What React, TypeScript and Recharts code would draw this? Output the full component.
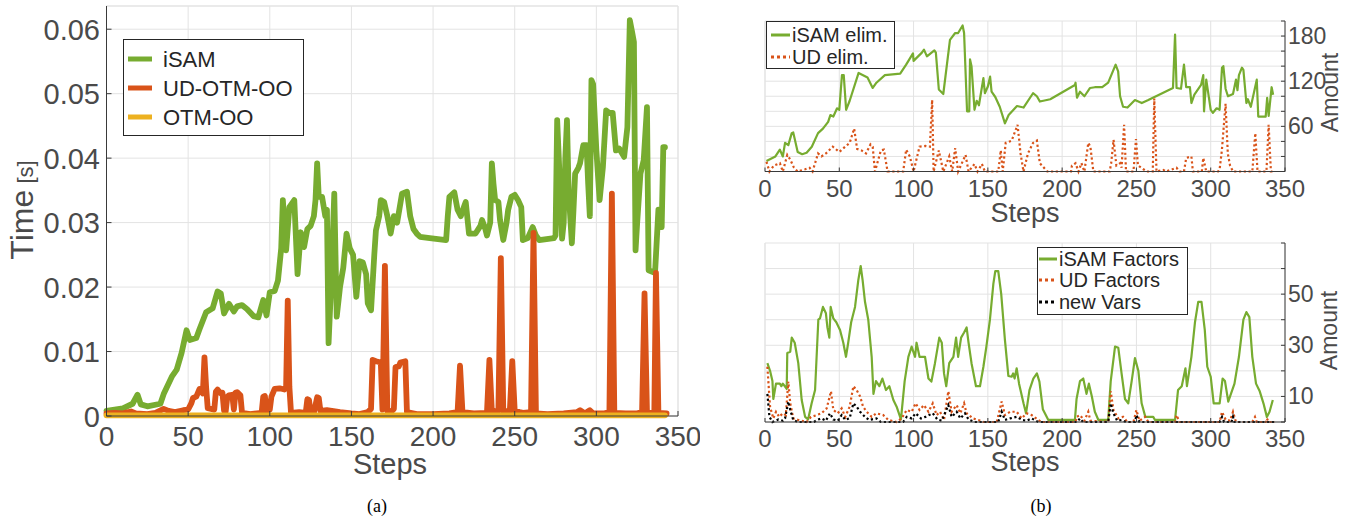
import React from "react";
import { LineChart, Line, XAxis, YAxis, CartesianGrid, ReferenceLine } from "recharts";

type Pt = [number, number];

// ---------- axes ----------
const stepTicks = [0, 50, 100, 150, 200, 250, 300, 350];
const timeTicks = [0, 0.01, 0.02, 0.03, 0.04, 0.05, 0.06];
const elimTicks = [0, 20, 40, 60, 80, 100, 120, 140, 160, 180, 200];
const elimLabels = [60, 120, 180];
const factorTicks = [0, 10, 20, 30, 40, 50, 60, 70];
const factorLabels = [10, 30, 50];

// ---------- (a) computation time per step [s] ----------
const isamTime: Pt[] = [
  [0, 0.0008], [10, 0.0012], [16, 0.0019], [19, 0.0033], [21, 0.0018], [25, 0.0015], [33, 0.0019],
  [35, 0.0034], [40, 0.0061], [43, 0.0072], [46, 0.0098], [49, 0.0133], [51, 0.0118], [55, 0.0121],
  [57, 0.0135], [61, 0.0161], [65, 0.0167], [68, 0.0193], [70, 0.019], [72, 0.0159], [75, 0.0174],
  [78, 0.0162], [80, 0.017], [83, 0.0172], [86, 0.0166], [90, 0.0155], [93, 0.0153], [96, 0.018],
  [98, 0.0156], [100, 0.0192], [103, 0.0194], [105, 0.021], [107, 0.026], [108, 0.0335], [110, 0.0257],
  [112, 0.0324], [115, 0.0335], [117, 0.022], [119, 0.0285], [121, 0.0262], [123, 0.029], [125, 0.0295],
  [127, 0.031], [128, 0.0335], [129, 0.0392], [130, 0.034], [132, 0.034], [134, 0.031], [135, 0.032],
  [136, 0.0113], [137.5, 0.02], [139.5, 0.0345], [141, 0.0154], [143, 0.02], [145, 0.023], [147, 0.0283],
  [149, 0.026], [151, 0.025], [153, 0.0185], [155, 0.024], [157, 0.0238], [159, 0.022], [160, 0.0175],
  [162, 0.0164], [164, 0.025], [165, 0.0288], [167, 0.031], [168, 0.0335], [170, 0.0332], [172, 0.031],
  [174, 0.0283], [176, 0.031], [178, 0.03], [181, 0.0345], [184, 0.0348], [186, 0.031], [188, 0.029],
  [190, 0.0283], [192, 0.0278], [198, 0.0276], [208, 0.0273], [209, 0.031], [210, 0.034], [213, 0.0347],
  [215, 0.032], [217, 0.031], [219, 0.0325], [220, 0.0332], [222, 0.0283], [226, 0.0283], [229, 0.0295],
  [230, 0.0304], [232, 0.029], [233, 0.028], [235, 0.03], [236, 0.0392], [237, 0.036], [238, 0.0335],
  [240, 0.0332], [241, 0.0304], [243, 0.0273], [245, 0.03], [246, 0.032], [248, 0.034], [250, 0.0343],
  [252, 0.0335], [254, 0.0324], [255, 0.0273], [258, 0.0276], [261, 0.0293], [263, 0.028], [265, 0.0273],
  [274, 0.0276], [275, 0.028], [276, 0.0459], [277, 0.04], [279, 0.0275], [280, 0.03], [281, 0.04],
  [282, 0.0459], [283, 0.035], [285, 0.0268], [286, 0.032], [287, 0.0376], [289, 0.0385], [290, 0.0392],
  [292, 0.042], [294, 0.042], [295, 0.036], [296, 0.031], [297, 0.0521], [298, 0.0515], [300, 0.0412],
  [302, 0.0335], [304, 0.0386], [306, 0.0474], [308, 0.047], [310, 0.047], [312, 0.0412], [314, 0.0415],
  [317, 0.0402], [319, 0.0448], [320.5, 0.0614], [322, 0.0594], [323, 0.058], [324, 0.0257], [325, 0.03],
  [327, 0.0376], [329, 0.0397], [331, 0.0479], [332, 0.0226], [335, 0.0223], [336, 0.0225], [338, 0.032],
  [340, 0.0293], [341, 0.0417], [342, 0.0417],
];

const udOtmTime: Pt[] = [
  [0, 0.0004], [5, 0.0005], [10, 0.0004], [15, 0.0007], [18, 0.0004], [25, 0.0003], [30, 0.0005],
  [35, 0.0011], [38, 0.0008], [42, 0.0006], [47, 0.0009], [50, 0.001], [52, 0.002], [53, 0.0028],
  [55, 0.003], [57, 0.0042], [59, 0.0035], [60, 0.0091], [61, 0.0045], [62, 0.0012], [64, 0.0011],
  [66, 0.001], [67, 0.0038], [68, 0.0041], [70, 0.0035], [71, 0.0036], [72, 0.0008], [73, 0.0007],
  [74, 0.003], [75, 0.0032], [77, 0.0033], [78, 0.001], [79, 0.0036], [80, 0.0037], [82, 0.0032],
  [83, 0.0005], [88, 0.0003], [95, 0.0005], [96, 0.003], [97, 0.0031], [98, 0.0008], [100, 0.001],
  [101, 0.003], [103, 0.0042], [106, 0.0043], [109, 0.0041], [110, 0.0045], [111, 0.0179], [112, 0.0045],
  [113, 0.0005], [118, 0.0006], [122, 0.0005], [123, 0.0026], [124, 0.0025], [125, 0.0006], [127, 0.0005],
  [129, 0.0029], [130, 0.0028], [131, 0.0008], [135, 0.0009], [138, 0.0008], [143, 0.0006], [150, 0.0004],
  [155, 0.0003], [160, 0.0006], [162, 0.0011], [163, 0.0087], [165, 0.0085], [168, 0.0083], [169, 0.001],
  [170.5, 0.0233], [172, 0.0008], [174, 0.0006], [176, 0.0011], [177, 0.0076], [179, 0.0077], [180, 0.0083],
  [183, 0.0085], [184, 0.0006], [190, 0.0003], [200, 0.0003], [210, 0.0004], [215, 0.0006], [216.5, 0.0078],
  [218, 0.0006], [225, 0.0004], [233, 0.0005], [234.5, 0.0087], [236, 0.0007], [240, 0.0008], [241.5, 0.0245],
  [243, 0.0008], [247, 0.0007], [248.5, 0.0085], [250, 0.0008], [253, 0.0006], [255, 0.0005], [260, 0.0006],
  [261.5, 0.0284], [263, 0.0004], [270, 0.0003], [280, 0.0004], [288, 0.0006], [290, 0.0009], [293, 0.0004],
  [296, 0.0009], [298, 0.0004], [305, 0.0004], [308, 0.0006], [309.5, 0.0345], [311, 0.0005], [318, 0.0004],
  [325, 0.0004], [328, 0.0006], [329.5, 0.019], [331, 0.0005], [334, 0.0005], [335.5, 0.0006], [336.5, 0.0222],
  [338, 0.0005], [343, 0.0004],
];

const otmTime: Pt[] = [
  [0, 0.0001], [50, 0.0001], [100, 0.0001], [150, 0.0001], [200, 0.0001], [250, 0.0001], [300, 0.0001],
  [342, 0.0001],
];

// ---------- (b) top: eliminated variables per step ----------
const isamElim: Pt[] = [
  [1, 14], [7, 20], [10, 29], [12, 20], [13.5, 38], [15.7, 35], [18, 51], [19, 52], [22, 26], [25, 23],
  [28, 25], [31.5, 33], [35.7, 51], [39, 57], [42.5, 66], [44, 75], [46, 73], [48.5, 84], [50, 82],
  [51.8, 128], [53, 128], [54.6, 82], [57, 94], [63, 131], [67, 127], [69, 125], [72.5, 111], [75, 118],
  [80.7, 128], [91, 130], [95, 142], [99.6, 157], [100, 147], [105.6, 158], [107, 162], [109, 153],
  [114, 161], [115, 158], [117, 109], [120, 103], [124.5, 175], [128, 184], [130, 184], [133, 194],
  [134, 184], [136, 80], [137.5, 80], [138, 149], [139, 140], [141, 82], [142.5, 94], [144, 88], [147, 124],
  [148, 104], [150, 113], [151.5, 126], [152.5, 106], [155, 99], [158, 86], [161.5, 64], [164, 75],
  [169.6, 87], [174, 85], [180.4, 104], [183, 100], [185, 93], [192, 96], [208.6, 115], [209, 118],
  [210, 98], [212, 106], [215, 100], [218.8, 111], [222, 112], [227, 112], [231, 118], [236, 142],
  [237.7, 133], [239, 100], [241, 86], [244, 85], [249, 95], [253.6, 91], [258, 95], [274.6, 111],
  [276, 182], [277, 111], [280, 110], [282, 142], [283.5, 112], [286, 112], [287, 91], [289, 102],
  [293.5, 115], [295, 128], [295.5, 80], [297, 122], [300, 82], [301.5, 78], [304, 84], [306, 82],
  [307.6, 138], [308.5, 140], [310, 110], [311.6, 100], [315, 103], [317, 122], [318, 108], [319, 128],
  [321, 138], [322, 135], [324, 91], [325, 96], [327, 86], [331, 122], [332, 73], [337, 73], [338, 98],
  [339, 74], [341, 112], [342, 102],
];

const udElim: Pt[] = [
  [1, 13], [3, 0], [6, 8], [10, 11], [12, 0], [15, 22], [17, 16], [19.5, 5], [22, 0], [27, 3], [30, 5],
  [32, 0], [35.7, 24], [38, 20], [41, 24], [45.6, 33], [50, 26], [54, 33], [57, 38], [60, 57], [62, 30],
  [65, 28], [68, 24], [71, 36], [72.5, 33], [74, 0], [78, 28], [80, 29], [82.5, 0], [93, 0], [95, 29],
  [97.5, 20], [100, 0], [104, 33], [108, 34], [111, 33], [112.5, 95], [113.5, 0], [117, 28], [120, 0],
  [124, 20], [126, 0], [128, 31], [130, 0], [135, 22], [137, 0], [141, 10], [143, 0], [146, 10], [148, 0],
  [157, 0], [158.7, 28], [160, 0], [162, 38], [166, 41], [170, 62], [172, 24], [174, 0], [177, 24],
  [180.4, 38], [183, 41], [185, 11], [190, 0], [206, 0], [206.6, 8], [209, 11], [211, 0], [213, 11],
  [215, 0], [217.6, 38], [219, 33], [221, 0], [232, 0], [233, 11], [234.6, 42], [236.5, 8], [239, 11],
  [240, 5], [241.7, 62], [243, 0], [248, 0], [249.7, 43], [251, 8], [254.7, 3], [257, 0], [261, 0],
  [262, 97], [263.5, 0], [268, 2], [270, 0], [277, 5], [279, 0], [282, 0], [283.5, 18], [287, 20],
  [288, 0], [294, 0], [295, 18], [297, 0], [305, 0], [306, 3], [307.5, 28], [310, 90], [311.5, 24],
  [313, 8], [315, 0], [328, 0], [330, 51], [331.5, 0], [337.5, 0], [339, 62], [340.5, 0], [343, 0],
];

// ---------- (b) bottom: factors and new variables per step ----------
const isamFactors: Pt[] = [
  [1.6, 23], [3.4, 20], [5, 16], [5.6, 9], [7.4, 15], [10, 15], [11, 14], [12, 15], [14.6, 13], [15, 27],
  [17, 27.5], [18, 33], [20, 31], [22.4, 23], [24.7, 8.6], [27, 2], [29, 1], [31.4, 7.3], [33.7, 12.5],
  [35.9, 40], [37, 40.5], [39, 45], [41, 42.5], [42, 37], [43.3, 33], [44.2, 45], [46, 40.5], [48, 39],
  [50.5, 36], [52.7, 31], [54.5, 25.5], [56, 31], [58, 39], [60.6, 45], [62.8, 55.5], [64.4, 61],
  [65.7, 55.5], [67.3, 47], [69.5, 40], [71.8, 25.5], [73, 11], [74.7, 16], [77, 14], [79, 17],
  [81.4, 12.5], [83.7, 14], [86.4, 8.6], [88.6, 6], [91.5, 1], [94, 16], [96.5, 25.5], [98.7, 29.5],
  [101, 25.5], [102, 31], [104, 25.5], [107.7, 25.5], [110, 17], [112, 15.8], [114.4, 23], [117.3, 33],
  [119, 31], [120.5, 19], [122, 14], [124, 23], [126.8, 25.5], [128.6, 33], [130, 25.5], [132, 33],
  [134, 35], [135.7, 37], [137, 31], [139, 23], [142, 14], [144.7, 14], [147, 21.6], [149, 29.5],
  [151.4, 40], [153.7, 54], [155, 59], [157, 59], [159, 50], [161.5, 32], [163.8, 18], [166, 17.7],
  [167, 19], [168, 17], [169.4, 21], [171, 15], [174, 7.3], [175.7, 3.4], [178, 12.5], [180.6, 17],
  [183, 19], [184.7, 15.8], [187, 5], [190.7, 0.8], [208.6, 0.8], [209.7, 9], [212, 16], [214.2, 17],
  [216.4, 11], [218, 15], [220, 10], [222, 4], [224.4, 0.8], [231, 0.8], [232.7, 16], [235.6, 29.5],
  [237.8, 29], [240, 19], [242.3, 9], [244.5, 7.3], [246.8, 16], [249, 25], [251.3, 20], [253.5, 7.3],
  [256, 2], [261.3, 2], [262.5, 0.8], [276, 0.8], [278, 12.5], [280.5, 14], [283, 21], [284, 14],
  [287, 25.5], [289.4, 39], [291.6, 47], [293.8, 47], [296, 36], [297.7, 21.6], [300, 17.7], [302, 7.3],
  [306, 7.3], [308, 17], [309.6, 16], [311.8, 8], [316, 15], [319, 25.5], [322, 40], [324, 43], [326, 41],
  [328, 25.5], [330.5, 15], [333, 12], [335.5, 7.3], [337.8, 2], [339.6, 4], [341.8, 8.6],
];

const udFactors: Pt[] = [
  [1.6, 21.6], [3.4, 6], [5.6, 1.4], [7.4, 4], [9.6, 2], [12, 3.4], [14, 2.7], [15.7, 15.8], [17, 7.3],
  [19, 1.4], [22.4, 0.8], [28, 0], [31, 2], [34.8, 2.7], [38, 3.4], [41.5, 5.3], [44.4, 12], [46, 4.7],
  [49, 3.4], [51.6, 5.3], [54, 2], [57, 6], [59.5, 14], [61.7, 12.5], [64, 10], [66, 6], [68.4, 4],
  [71.8, 2], [75, 3.4], [79.6, 2.7], [83, 0.8], [88.6, 0], [92, 1.4], [95.4, 4.7], [98.7, 4], [101.4, 7.3],
  [104, 4.7], [107, 6.6], [110, 4], [112.9, 7.3], [115.5, 2.7], [117.8, 4], [120.5, 0.8], [123.4, 12],
  [125.6, 4], [129, 6.6], [131.5, 3.4], [134, 7.3], [135.7, 3.4], [140, 1.4], [143.6, 0.8], [147, 0],
  [156, 0], [159.3, 8], [161.5, 2.7], [165, 4], [169.4, 4], [172.8, 1.4], [176, 3.4], [179.5, 2.7],
  [184, 0.8], [186, 0], [209, 0], [209.7, 2], [212, 2.7], [215, 0.5], [217.6, 4], [219, 0.5], [231, 0],
  [232.7, 12], [234.5, 4.7], [237.8, 1.4], [241, 2], [244, 0], [248, 0], [250, 4.7], [252, 0.5], [256, 2],
  [258, 0], [276, 0], [277, 2.7], [279, 0], [306, 0], [307.6, 4], [310, 1], [313, 0.5], [315, 4], [317, 0],
  [328, 0], [329.8, 2], [331, 0], [337, 0], [337.8, 1.4], [339, 0], [343, 0],
];

const newVars: Pt[] = [
  [1.6, 11], [3, 2], [5, 0], [9, 1], [12, 0.5], [13.5, 1.4], [15.7, 8], [17, 4.7], [19, 0.8], [22, 0],
  [33, 0], [35, 0.8], [38, 1.4], [41, 0.5], [43.7, 3.4], [46, 1], [49, 0.5], [51.6, 2.7], [54, 0.8],
  [57, 1.5], [59.5, 7.3], [61.7, 6], [64, 4], [67.3, 2], [70, 0.8], [75, 1.4], [78, 0], [93, 0],
  [95.4, 2], [98.7, 1.4], [101.4, 3.4], [105, 1.4], [108, 2], [112.9, 3.4], [116, 1], [119, 0.5],
  [123.4, 6.6], [125.6, 2], [129, 4], [131.5, 1.4], [134.6, 3.4], [137, 1], [141, 0], [157, 0],
  [159.3, 4], [161.5, 0.8], [165, 1.4], [169.4, 2], [173, 0.8], [176, 0.5], [179.5, 1.4], [184, 0],
  [210, 0], [212, 1.4], [214, 0], [231, 0], [232.7, 7.3], [234.5, 3.4], [237, 0.5], [240, 0.8], [243, 0],
  [249, 0], [250, 2.7], [252, 0], [306, 0], [307.6, 2], [309, 0], [314, 0], [315, 2], [316, 0], [343, 0],
];

// ---------- styling ----------
const FONT = '"Liberation Sans", Arial, Helvetica, sans-serif';
const SERIF = '"Liberation Serif", "DejaVu Serif", serif';
const GREEN = "#77AC30";
const ORANGE = "#D95319";
const YELLOW = "#EDB120";
const BLACK = "#000000";
const TEXT = "#4a4a4a";
const LEGEND_TEXT = "#262626";
const GRID = "#e3e3e3";
const AXIS = "#3a3a3a";

const rows = (pts: Pt[]) => pts.map(([x, y]) => ({ x, y }));

const fmtTime = (v: number) => (v === 0 ? "0" : v.toFixed(2));

// inward tick marks + labels
const LeftYTick = (p: any) => (
  <g>
    <line x1={p.x} y1={p.y} x2={p.x + 5} y2={p.y} stroke={AXIS} strokeWidth={1} />
    <text x={p.x - 6.5} y={p.y + 10.5} textAnchor="end" fontSize={29} fill={TEXT} fontFamily={FONT}>
      {fmtTime(p.payload.value)}
    </text>
  </g>
);

const LeftXTick = (p: any) => (
  <g>
    <line x1={p.x} y1={p.y} x2={p.x} y2={p.y - 5} stroke={AXIS} strokeWidth={1} />
    <text x={p.x} y={p.y + 30} textAnchor="middle" fontSize={28} fill={TEXT} fontFamily={FONT}>
      {p.payload.value}
    </text>
  </g>
);

const RightXTick = (p: any) => (
  <g>
    <line x1={p.x} y1={p.y} x2={p.x} y2={p.y - 4} stroke={AXIS} strokeWidth={1} />
    <text x={p.x} y={p.y + 25} textAnchor="middle" fontSize={24} fill={TEXT} fontFamily={FONT}>
      {p.payload.value}
    </text>
  </g>
);

const makeRightYTick = (labels: number[]) => (p: any) => (
  <g>
    <line x1={p.x} y1={p.y} x2={p.x - 4} y2={p.y} stroke={AXIS} strokeWidth={1} />
    {labels.includes(p.payload.value) ? (
      <text x={p.x + 3} y={p.y + 8} textAnchor="start" fontSize={23} fill={TEXT} fontFamily={FONT}>
        {p.payload.value}
      </text>
    ) : null}
  </g>
);

const ElimYTick = makeRightYTick(elimLabels);
const FactorYTick = makeRightYTick(factorLabels);

const DOT = "2.2 2.6";

export default function App() {
  return (
    <div style={{ position: "absolute", left: 0, top: 0, width: 1354, height: 520, background: "#fff", overflow: "hidden" }}>
      {/* (a) timing */}
      <div style={{ position: "absolute", left: 0, top: 0 }}>
        <LineChart width={700} height={470} margin={{ top: 6, right: 22, bottom: 24, left: 26.5 }}>
          <CartesianGrid stroke={GRID} />
          <ReferenceLine y={0.0636} stroke={GRID} />
          <ReferenceLine x={350} stroke={GRID} />
          <XAxis
            type="number"
            dataKey="x"
            domain={[0, 350]}
            ticks={stepTicks}
            interval={0}
            height={30}
            tickSize={0}
            tickMargin={0}
            tickLine={false}
            axisLine={{ stroke: AXIS }}
            tick={LeftXTick}
          />
          <YAxis
            type="number"
            dataKey="y"
            domain={[0, 0.0636]}
            ticks={timeTicks}
            interval={0}
            width={80}
            tickSize={0}
            tickMargin={0}
            tickLine={false}
            axisLine={{ stroke: AXIS }}
            tick={LeftYTick}
          />
          <Line data={rows(isamTime)} dataKey="y" type="linear" dot={false} isAnimationActive={false}
            stroke={GREEN} strokeWidth={5.8} strokeLinejoin="round" strokeLinecap="round" name="iSAM" />
          <Line data={rows(udOtmTime)} dataKey="y" type="linear" dot={false} isAnimationActive={false}
            stroke={ORANGE} strokeWidth={5.8} strokeLinejoin="round" strokeLinecap="round" name="UD-OTM-OO" />
          <Line data={rows(otmTime)} dataKey="y" type="linear" dot={false} isAnimationActive={false}
            stroke={YELLOW} strokeWidth={5.8} strokeLinejoin="round" strokeLinecap="round" name="OTM-OO" />
        </LineChart>
      </div>

      {/* (b) top: eliminated variables */}
      <div style={{ position: "absolute", left: 740, top: 0 }}>
        <LineChart width={614} height={230} margin={{ top: 21, right: 0, bottom: 18.5, left: 25 }}>
          <CartesianGrid stroke={GRID} />
          <ReferenceLine x={0} stroke={GRID} />
          <XAxis
            type="number"
            dataKey="x"
            domain={[0, 350]}
            ticks={stepTicks}
            interval={0}
            height={40}
            tickSize={0}
            tickMargin={0}
            tickLine={false}
            axisLine={{ stroke: AXIS }}
            tick={RightXTick}
          />
          <YAxis
            orientation="right"
            type="number"
            dataKey="y"
            domain={[0, 200]}
            ticks={elimTicks}
            interval={0}
            width={69}
            tickSize={0}
            tickMargin={0}
            tickLine={false}
            axisLine={{ stroke: AXIS }}
            tick={ElimYTick}
          />
          <Line data={rows(isamElim)} dataKey="y" type="linear" dot={false} isAnimationActive={false}
            stroke={GREEN} strokeWidth={2.2} strokeLinejoin="round" name="iSAM elim." />
          <Line data={rows(udElim)} dataKey="y" type="linear" dot={false} isAnimationActive={false}
            stroke={ORANGE} strokeWidth={2.2} strokeDasharray={DOT} name="UD elim." />
        </LineChart>
      </div>

      {/* (b) bottom: factors and new variables */}
      <div style={{ position: "absolute", left: 740, top: 230 }}>
        <LineChart width={614} height={250} margin={{ top: 13, right: 0, bottom: 18, left: 25 }}>
          <CartesianGrid stroke={GRID} />
          <ReferenceLine x={0} stroke={GRID} />
          <XAxis
            type="number"
            dataKey="x"
            domain={[0, 350]}
            ticks={stepTicks}
            interval={0}
            height={40}
            tickSize={0}
            tickMargin={0}
            tickLine={false}
            axisLine={{ stroke: AXIS }}
            tick={RightXTick}
          />
          <YAxis
            orientation="right"
            type="number"
            dataKey="y"
            domain={[0, 70]}
            ticks={factorTicks}
            interval={0}
            width={69}
            tickSize={0}
            tickMargin={0}
            tickLine={false}
            axisLine={{ stroke: AXIS }}
            tick={FactorYTick}
          />
          <Line data={rows(isamFactors)} dataKey="y" type="linear" dot={false} isAnimationActive={false}
            stroke={GREEN} strokeWidth={2.2} strokeLinejoin="round" name="iSAM Factors" />
          <Line data={rows(udFactors)} dataKey="y" type="linear" dot={false} isAnimationActive={false}
            stroke={ORANGE} strokeWidth={2.2} strokeDasharray={DOT} name="UD Factors" />
          <Line data={rows(newVars)} dataKey="y" type="linear" dot={false} isAnimationActive={false}
            stroke={BLACK} strokeWidth={2.2} strokeDasharray={DOT} name="new Vars" />
        </LineChart>
      </div>

      {/* titles, legends and panel captions */}
      <svg width={1354} height={520} style={{ position: "absolute", left: 0, top: 0, pointerEvents: "none" }}>
        {/* (a) */}
        <text transform="translate(33,210) rotate(-90)" textAnchor="middle" fontSize={32} fill={TEXT} fontFamily={FONT}>
          Time<tspan fontSize={22}> [s]</tspan>
        </text>
        <text x={390} y={474} textAnchor="middle" fontSize={29} fill={TEXT} fontFamily={FONT}>Steps</text>
        <rect x={123.5} y={39.5} width={180} height={96} fill="#fff" stroke={LEGEND_TEXT} strokeWidth={1} />
        <line x1={128} y1={59} x2={152} y2={59} stroke={GREEN} strokeWidth={5} />
        <text x={163} y={67} fontSize={22} fill={LEGEND_TEXT} fontFamily={FONT}>iSAM</text>
        <line x1={128} y1={88} x2={152} y2={88} stroke={ORANGE} strokeWidth={5} />
        <text x={163} y={96} fontSize={22} fill={LEGEND_TEXT} fontFamily={FONT}>UD-OTM-OO</text>
        <line x1={128} y1={117} x2={152} y2={117} stroke={YELLOW} strokeWidth={5} />
        <text x={163} y={125} fontSize={22} fill={LEGEND_TEXT} fontFamily={FONT}>OTM-OO</text>
        <text x={377} y={512} textAnchor="middle" fontSize={18} fill="#000" fontFamily={SERIF}>(a)</text>

        {/* (b) top */}
        <text x={1025} y={222} textAnchor="middle" fontSize={27} fill={TEXT} fontFamily={FONT}>Steps</text>
        <text transform="translate(1338,92.5) rotate(-90)" textAnchor="middle" fontSize={23} fill={TEXT} fontFamily={FONT}>Amount</text>
        <rect x={766.5} y={21.5} width={128} height={47} fill="#fff" stroke={LEGEND_TEXT} strokeWidth={1} />
        <line x1={771} y1={35} x2={790} y2={35} stroke={GREEN} strokeWidth={3} />
        <text x={792} y={42} fontSize={20} fill={LEGEND_TEXT} fontFamily={FONT}>iSAM elim.</text>
        <line x1={771} y1={57} x2={790} y2={57} stroke={ORANGE} strokeWidth={3} strokeDasharray="3 3" />
        <text x={792} y={64} fontSize={20} fill={LEGEND_TEXT} fontFamily={FONT}>UD elim.</text>

        {/* (b) bottom */}
        <text x={1025} y={471} textAnchor="middle" fontSize={27} fill={TEXT} fontFamily={FONT}>Steps</text>
        <text transform="translate(1337,330.5) rotate(-90)" textAnchor="middle" fontSize={23} fill={TEXT} fontFamily={FONT}>Amount</text>
        <rect x={1037.5} y={247.5} width={150} height={67} fill="#fff" stroke={LEGEND_TEXT} strokeWidth={1} />
        <line x1={1039} y1={259} x2={1057} y2={259} stroke={GREEN} strokeWidth={3} />
        <text x={1059} y={266} fontSize={20} fill={LEGEND_TEXT} fontFamily={FONT}>iSAM Factors</text>
        <line x1={1039} y1={280} x2={1057} y2={280} stroke={ORANGE} strokeWidth={3} strokeDasharray="3 3" />
        <text x={1059} y={287} fontSize={20} fill={LEGEND_TEXT} fontFamily={FONT}>UD Factors</text>
        <line x1={1039} y1={302} x2={1057} y2={302} stroke={BLACK} strokeWidth={3} strokeDasharray="3 3" />
        <text x={1059} y={309} fontSize={20} fill={LEGEND_TEXT} fontFamily={FONT}>new Vars</text>
        <text x={1041} y={512} textAnchor="middle" fontSize={18} fill="#000" fontFamily={SERIF}>(b)</text>
      </svg>
    </div>
  );
}
